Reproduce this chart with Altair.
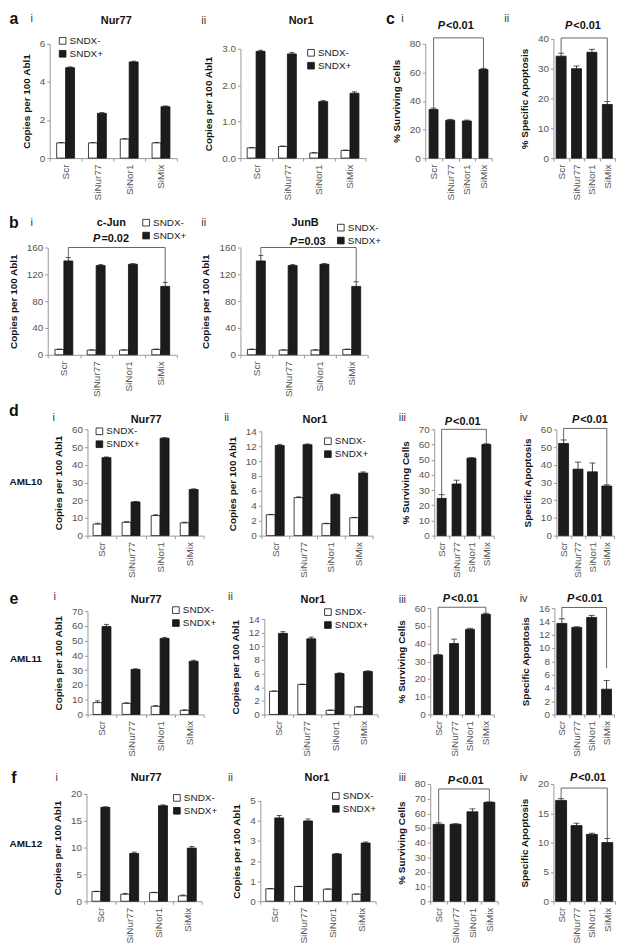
import altair as alt
import pandas as pd

FONT = "Liberation Sans"
INK = "#111111"
BLACK = "#1c1c1c"
CATS = ["Scr", "SiNur77", "SiNor1", "SiMix"]
SERIES = ["SNDX-", "SNDX+"]
COPIES = "Copies per 100 Abl1"
SURV = "% Surviving Cells"

# ---------------- data ----------------
# a  (copies per 100 Abl1)
a1_neg = [0.80, 0.80, 1.00, 0.80]
a1_neg_err = [0.02, 0.02, 0.02, 0.02]
a1_pos = [4.75, 2.35, 5.05, 2.70]
a1_pos_err = [0.04, 0.04, 0.04, 0.04]
a2_neg = [0.28, 0.32, 0.14, 0.21]
a2_neg_err = [0.01, 0.01, 0.01, 0.01]
a2_pos = [2.93, 2.86, 1.55, 1.78]
a2_pos_err = [0.03, 0.04, 0.03, 0.04]
# c
c1_vals = [34.0, 26.5, 26.0, 62.0]
c1_errs = [1.0, 0.6, 0.6, 0.8]
c2_vals = [34.2, 30.0, 35.5, 18.0]
c2_errs = [1.0, 0.9, 1.0, 1.0]
# b
b1_neg = [8, 7, 7, 8]
b1_neg_err = [0.5, 0.5, 0.5, 0.5]
b1_pos = [140, 133, 135, 102]
b1_pos_err = [5, 1.5, 1, 6]
b2_neg = [8, 7, 7, 8]
b2_neg_err = [0.5, 0.5, 0.5, 0.5]
b2_pos = [140, 133, 135, 102]
b2_pos_err = [8, 1.5, 1, 7]
# d  (AML10)
d1_neg = [6.5, 7.5, 11.3, 7.2]
d1_neg_err = [0.5, 0.4, 0.5, 0.4]
d1_pos = [44, 19, 55, 26]
d1_pos_err = [0.4, 0.2, 0.3, 0.4]
d2_neg = [2.8, 5.1, 1.6, 2.4]
d2_neg_err = [0.05, 0.1, 0.05, 0.05]
d2_pos = [12.1, 12.2, 5.5, 8.4]
d2_pos_err = [0.15, 0.1, 0.1, 0.15]
d3_vals = [24.5, 34.0, 51.0, 60.0]
d3_errs = [2.5, 2.5, 0.3, 0.5]
d4_vals = [52.0, 37.5, 36.0, 28.0]
d4_errs = [2.0, 4.0, 5.0, 0.7]
# e  (AML11)
e1_neg = [8.0, 7.5, 5.5, 2.8]
e1_neg_err = [1.2, 0.4, 0.5, 0.3]
e1_pos = [59.5, 30.5, 51.5, 36.0]
e1_pos_err = [1.5, 0.4, 0.7, 0.7]
e2_neg = [3.4, 4.4, 0.6, 1.1]
e2_neg_err = [0.05, 0.05, 0.05, 0.05]
e2_pos = [11.9, 11.1, 6.0, 6.3]
e2_pos_err = [0.25, 0.25, 0.1, 0.1]
e3_vals = [33.5, 40.0, 48.0, 56.5]
e3_errs = [0.3, 2.5, 0.6, 0.6]
e4_vals = [13.7, 13.1, 14.6, 3.8]
e4_errs = [0.7, 0.1, 0.3, 1.3]
# f  (AML12)
f1_neg = [1.8, 1.3, 1.6, 1.0]
f1_neg_err = [0.05, 0.15, 0.05, 0.15]
f1_pos = [17.5, 8.9, 17.8, 9.9]
f1_pos_err = [0.1, 0.25, 0.15, 0.3]
f2_neg = [0.62, 0.73, 0.60, 0.35]
f2_neg_err = [0.01, 0.01, 0.01, 0.01]
f2_pos = [4.15, 4.0, 2.35, 2.9]
f2_pos_err = [0.12, 0.1, 0.03, 0.05]
f3_vals = [52.5, 52.5, 61.0, 67.5]
f3_errs = [1.0, 0.4, 2.0, 0.3]
f4_vals = [17.2, 12.9, 11.4, 10.0]
f4_errs = [0.3, 0.4, 0.2, 0.7]

# significance brackets: (level, left leg end, right leg end) in data units
c1_br = (84.2, 35, 62.8)
c2_br = (40.3, 35.2, 19)
b1_br = (160, 145, 108)
b2_br = (160, 148, 109)
d3_br = (70, 27, 60.5)
d4_br = (60.5, 54, 28.7)
e3_br = (60.5, 34, 57.1)
e4_br = (16.1, 14.4, 7)
f3_br = (76.6, 53.5, 67.8)
f4_br = (19.3, 17.5, 10.7)

# ---------------- layout (pixels) ----------------
P0 = 43
SC = 30          # column spacing
SV = 40          # row spacing
ROW1_TOP = 33
ROW_BOTTOMS = [153, 351, 533, 713, 901]
BARW = 9


def grouped(neg, neg_err, pos, pos_err):
    return dict(grouped=True, neg=neg, neg_err=neg_err, pos=pos, pos_err=pos_err)


def single(vals, errs, barw, br):
    return dict(grouped=False, vals=vals, errs=errs, barw=barw, bracket=br)


ROWS = [
    [
        dict(ax0=45, ax1=173, ytop=38, ymax=6, ystep=2, fmt="d", ytitle=COPIES, legend=(53, 35),
             texts=[("a", 9, 13, "letter"), ("i", 27, 13, "roman"), ("Nur77", 112, 15, "title")],
             **grouped(a1_neg, a1_neg_err, a1_pos, a1_pos_err)),
        dict(ax0=237, ax1=363, ytop=43, ymax=3, ystep=1, fmt=".1f", ytitle=COPIES, legend=(303, 47),
             texts=[("ii", 200, 15, "roman"), ("Nor1", 298, 15, "title")],
             **grouped(a2_neg, a2_neg_err, a2_pos, a2_pos_err)),
        dict(ax0=423, ax1=490, ytop=38, ymax=80, ystep=20, fmt="d", ytitle=SURV,
             texts=[("c", 388, 13, "letter"), ("i", 400, 13, "roman")], pv=("<0.01", 455, 20),
             **single(c1_vals, c1_errs, 9, c1_br)),
        dict(ax0=552, ax1=614, ytop=33, ymax=40, ystep=10, fmt="d", ytitle="% Specific Apoptosis",
             texts=[("ii", 505, 13, "roman")], pv=("<0.01", 583, 20),
             **single(c2_vals, c2_errs, 10, c2_br)),
    ],
    [
        dict(ax0=43, ax1=173, ytop=243, ymax=160, ystep=40, fmt="d", ytitle=COPIES, legend=(137, 218),
             texts=[("b", 9, 218, "letter"), ("i", 27, 218, "roman"), ("c-Jun", 107, 218, "title")],
             pv=("=0.02", 108, 234), bracket=b1_br,
             **grouped(b1_neg, b1_neg_err, b1_pos, b1_pos_err)),
        dict(ax0=237, ax1=365, ytop=243, ymax=160, ystep=40, fmt="d", ytitle=COPIES, legend=(333, 223),
             texts=[("ii", 200, 218, "roman"), ("JunB", 302, 218, "title")],
             pv=("=0.03", 306, 237), bracket=b2_br,
             **grouped(b2_neg, b2_neg_err, b2_pos, b2_pos_err)),
        None,
        None,
    ],
    [
        dict(ax0=83, ax1=200, ytop=426, ymax=60, ystep=10, fmt="d", ytitle=COPIES, legend=(90, 428),
             texts=[("d", 9, 408, "letter"), ("AML10", 21, 479, "aml"), ("i", 49, 415, "roman"),
                    ("Nur77", 142, 417, "title")],
             **grouped(d1_neg, d1_neg_err, d1_pos, d1_pos_err)),
        dict(ax0=258, ax1=370, ytop=428, ymax=14, ystep=2, fmt="d", ytitle=COPIES, legend=(320, 438),
             texts=[("ii", 223, 415, "roman"), ("Nor1", 312, 417, "title")],
             **grouped(d2_neg, d2_neg_err, d2_pos, d2_pos_err)),
        dict(ax0=432, ax1=492, ytop=426, ymax=70, ystep=10, fmt="d", ytitle=SURV,
             texts=[("iii", 400, 415, "roman")], pv=("<0.01", 462, 419),
             **single(d3_vals, d3_errs, 9, d3_br)),
        dict(ax0=555, ax1=613, ytop=426, ymax=60, ystep=10, fmt="d", ytitle="Specific Apoptosis",
             texts=[("iv", 522, 415, "roman")], pv=("<0.01", 590, 417),
             **single(d4_vals, d4_errs, 10, d4_br)),
    ],
    [
        dict(ax0=83, ax1=200, ytop=609, ymax=70, ystep=10, fmt="d", ytitle=COPIES, legend=(167, 608),
             texts=[("e", 9, 597, "letter"), ("AML11", 21, 657, "aml"), ("i", 50, 595, "roman"),
                    ("Nur77", 142, 598, "title")],
             **grouped(e1_neg, e1_neg_err, e1_pos, e1_pos_err)),
        dict(ax0=261, ax1=375, ytop=617, ymax=14, ystep=2, fmt="d", ytitle=COPIES, legend=(320, 610),
             texts=[("ii", 227, 595, "roman"), ("Nor1", 310, 598, "title")],
             **grouped(e2_neg, e2_neg_err, e2_pos, e2_pos_err)),
        dict(ax0=428, ax1=492, ytop=606, ymax=60, ystep=10, fmt="d", ytitle=SURV,
             texts=[("iii", 400, 598, "roman")], pv=("<0.01", 460, 597),
             **single(e3_vals, e3_errs, 9, e3_br)),
        dict(ax0=553, ax1=613, ytop=606, ymax=16, ystep=2, fmt="d", ytitle="Specific Apoptosis",
             texts=[("iv", 522, 597, "roman")], pv=("<0.01", 585, 597),
             **single(e4_vals, e4_errs, 10, e4_br)),
    ],
    [
        dict(ax0=82, ax1=198, ytop=793, ymax=20, ystep=5, fmt="d", ytitle=COPIES, legend=(168, 797),
             texts=[("f", 9, 777, "letter"), ("AML12", 21, 843, "aml"), ("i", 52, 777, "roman"),
                    ("Nur77", 142, 777, "title")],
             **grouped(f1_neg, f1_neg_err, f1_pos, f1_pos_err)),
        dict(ax0=257, ax1=373, ytop=800, ymax=5, ystep=1, fmt="d", ytitle=COPIES, legend=(328, 795),
             texts=[("ii", 227, 777, "roman"), ("Nor1", 314, 777, "title")],
             **grouped(f2_neg, f2_neg_err, f2_pos, f2_pos_err)),
        dict(ax0=428, ax1=496, ytop=783, ymax=80, ystep=10, fmt="d", ytitle=SURV,
             texts=[("iii", 400, 777, "roman")], pv=("<0.01", 465, 780),
             **single(f3_vals, f3_errs, 11, f3_br)),
        dict(ax0=552, ax1=614, ytop=783, ymax=20, ystep=5, fmt="d", ytitle="Specific Apoptosis",
             texts=[("iv", 522, 777, "roman")], pv=("<0.01", 588, 777),
             **single(f4_vals, f4_errs, 11, f4_br)),
    ],
]

STYLES = {
    "letter": dict(size=16, weight="bold", color=INK),
    "roman": dict(size=11, weight="normal", color="#333333"),
    "title": dict(size=11, weight="bold", color=INK),
    "aml": dict(size=10, weight="bold", color=INK),
}


def txt(s, x, y, size, weight, color, style="normal", align="center"):
    return alt.Chart(pd.DataFrame({"t": [s]})).mark_text(
        font=FONT, fontSize=size, fontWeight=weight, fontStyle=style, color=color,
        align=align, baseline="middle").encode(text="t:N", x=alt.value(x), y=alt.value(y))


def build_panel(p, gx, gtop, gbot):
    w = p["ax1"] - gx
    h = gbot - gtop
    xoff = p["ax0"] - gx
    yoff = p["ytop"] - gtop
    n = int(round(p["ymax"] / p["ystep"]))
    ticks = [round(i * p["ystep"], 6) for i in range(n + 1)]

    xenc = alt.X("cat:N", sort=CATS, title=None,
                 scale=alt.Scale(domain=CATS, range=[xoff, w], paddingInner=0, paddingOuter=0),
                 axis=alt.Axis(labelAngle=-90, tickBand="extent", labelPadding=3, labelOverlap=False))

    def yenc(field):
        return alt.Y(field + ":Q", title=p["ytitle"],
                     scale=alt.Scale(domain=[0, p["ymax"]], range=[h, yoff], nice=False, zero=True),
                     axis=alt.Axis(values=ticks, format=p["fmt"], offset=-xoff, labelOverlap=False,
                                   titlePadding=8))

    layers = []
    xo = None
    if p["grouped"]:
        band = (p["ax1"] - p["ax0"]) / 4
        po = max((band / BARW - 2) / 2, 0)
        xo = alt.XOffset("series:N", sort=SERIES,
                         scale=alt.Scale(domain=SERIES, paddingInner=0, paddingOuter=po))
        recs = []
        for i, c in enumerate(CATS):
            recs.append(dict(cat=c, series=SERIES[0], val=p["neg"][i], top=p["neg"][i] + p["neg_err"][i]))
            recs.append(dict(cat=c, series=SERIES[1], val=p["pos"][i], top=p["pos"][i] + p["pos_err"][i]))
        df = pd.DataFrame(recs)
        lx, ly = p["legend"]
        bars = alt.Chart(df).mark_bar(stroke=INK, strokeWidth=0.8).encode(
            x=xenc, xOffset=xo, y=yenc("val"),
            fill=alt.Fill("series:N", sort=SERIES,
                          scale=alt.Scale(domain=SERIES, range=["#ffffff", BLACK]),
                          legend=alt.Legend(orient="none", legendX=lx - gx, legendY=ly - gtop - 5,
                                            title=None)))
        rule = alt.Chart(df).mark_rule(color=INK, strokeWidth=0.8).encode(
            x=xenc, xOffset=xo, y=yenc("val"), y2="top:Q")
        cap = alt.Chart(df).mark_tick(color=INK, thickness=1, size=5).encode(
            x=xenc, xOffset=xo, y=yenc("top"))
        layers += [bars, rule, cap]
    else:
        tops = [v + e for v, e in zip(p["vals"], p["errs"])]
        df = pd.DataFrame(dict(cat=CATS, val=p["vals"], top=tops))
        bars = alt.Chart(df).mark_bar(color=BLACK, stroke=INK, strokeWidth=0.8, width=p["barw"]).encode(
            x=xenc, y=yenc("val"))
        rule = alt.Chart(df).mark_rule(color=INK, strokeWidth=0.8).encode(
            x=xenc, y=yenc("val"), y2="top:Q")
        cap = alt.Chart(df).mark_tick(color=INK, thickness=1, size=6).encode(
            x=xenc, y=yenc("top"))
        layers += [bars, rule, cap]

    if p.get("bracket"):
        lvl, l_end, r_end = p["bracket"]
        bdf = pd.DataFrame(dict(ord=[0, 1, 2, 3], cat=[CATS[0], CATS[0], CATS[3], CATS[3]],
                                series=[SERIES[1]] * 4, v=[l_end, lvl, lvl, r_end]))
        enc = dict(x=xenc, y=yenc("v"), order="ord:Q")
        if xo is not None:
            enc["xOffset"] = xo
        layers.append(alt.Chart(bdf).mark_line(color="#555555", strokeWidth=0.9).encode(**enc))

    for s, tx, ty, st in p.get("texts", []):
        sty = STYLES[st]
        layers.append(txt(s, tx - gx, ty - gtop, sty["size"], sty["weight"], sty["color"]))
    if p.get("pv"):
        rest, cx, cy = p["pv"]
        layers.append(txt("P", cx - 12 - gx, cy - gtop, 11, "bold", INK, "italic", "right"))
        layers.append(txt(rest, cx - 11 - gx, cy - gtop, 11, "bold", INK, "normal", "left"))

    return alt.layer(*layers).properties(width=w, height=h)


def placeholder(h):
    return alt.Chart(pd.DataFrame({"t": [""]})).mark_text().encode(
        text="t:N", x=alt.value(0), y=alt.value(0)).properties(width=1, height=h)


# column group left edges shared by every row (grid layout)
ncol = 4
col_left = [P0]
for k in range(ncol - 1):
    widest = max(row[k]["ax1"] - col_left[k] for row in ROWS if row[k] is not None)
    col_left.append(col_left[k] + widest + SC)

cells = []
gtop = ROW1_TOP
for r, row in enumerate(ROWS):
    gbot = ROW_BOTTOMS[r]
    for k, p in enumerate(row):
        if p is None:
            cells.append(placeholder(gbot - gtop))
        else:
            cells.append(build_panel(p, col_left[k], gtop, gbot))
    gtop = gbot + SV

chart = alt.concat(*cells, columns=ncol, spacing={"row": SV, "column": SC}, bounds="flush").resolve_scale(
    fill="independent", xOffset="independent").resolve_legend(fill="independent").properties(
    padding=0
).configure_axis(
    labelFont=FONT, labelFontSize=10, labelColor="#555555",
    titleFont=FONT, titleFontSize=10, titleFontWeight="bold", titleColor=INK,
    domainColor="#999999", tickColor="#999999", tickSize=3, grid=False
).configure_legend(
    labelFont=FONT, labelFontSize=10, labelColor="#222222", symbolType="square", symbolSize=45,
    symbolStrokeColor=INK, symbolStrokeWidth=0.8, rowPadding=3, labelOffset=2, padding=0
).configure_view(stroke=None)

chart.save("out.html", embed_options={"renderer": "svg", "actions": False})
